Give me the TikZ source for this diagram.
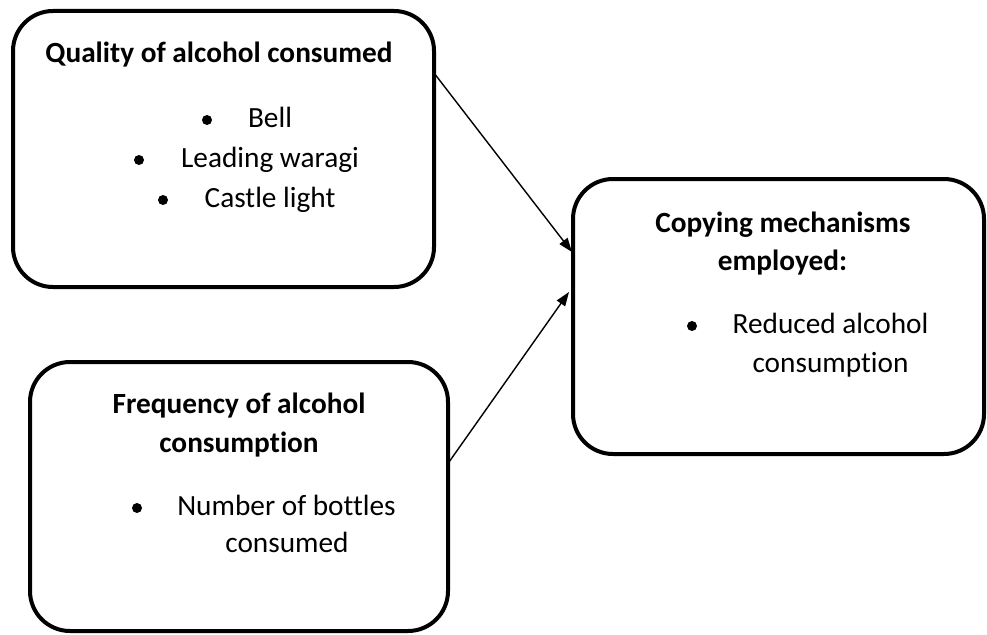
\documentclass[tikz,border=0pt]{standalone}
\usepackage{fontspec}
\setmainfont[Ligatures=NoCommon]{Carlito}
\usetikzlibrary{arrows.meta,calc}
\begin{document}
\begin{tikzpicture}[x=1pt,y=-1pt,
  box/.style={draw, line width=4pt, rounded corners=40pt, inner sep=0pt, outer sep=0pt},
  txt/.style={font=\fontsize{29.3}{35}\selectfont, inner sep=0pt, anchor=base},
  btxt/.style={txt, font=\fontsize{29.3}{35}\selectfont\bfseries},
  dot/.style={circle, fill, inner sep=0pt, minimum size=10pt},
  conn/.style={line width=1.4pt, -{Triangle[length=14pt,width=10pt]}}]
\useasboundingbox (0,0) rectangle (987,634);
% boxes
\node[box, minimum width=421pt, minimum height=276pt] (q) at (223.5,149) {};
\node[box, minimum width=411pt, minimum height=275pt] (c) at (778.5,316.5) {};
\node[box, minimum width=418pt, minimum height=269pt] (f) at (239,496.5) {};
% box 1 text
\node[btxt] (q1) at (219,63) {Quality of alcohol consumed};
\node[dot] (qb1) at (207,120) {};
\node[txt] (q2) at (270,127) {Bell};
\node[dot] (qb2) at (139,160) {};
\node[txt] (q3) at (270,167) {Leading waragi};
\node[dot] (qb3) at (163,200) {};
\node[txt] (q4) at (270,207) {Castle light};
% box 2 text
\node[btxt] (c1) at (783,232) {Copying mechanisms};
\node[btxt] (c2) at (782.5,270) {employed:};
\node[dot] (cb1) at (692,326) {};
\node[txt] (c3) at (830.5,333) {Reduced alcohol};
\node[txt] (c4) at (830.5,372) {consumption};
% box 3 text
\node[btxt] (f1) at (239,413) {Frequency of alcohol};
\node[btxt] (f2) at (239,452) {consumption};
\node[dot] (fb1) at (137,508) {};
\node[txt] (f3) at (286.5,515) {Number of bottles};
\node[txt] (f4) at (287,552) {consumed};
% connectors
\draw[conn] ($(q.north east)+(0,62)$) -- ($(c.north west)+(-1,73)$);
\draw[conn] ($(f.north east)+(1,100)$) -- ($(c.north west)+(-4,113)$);
\end{tikzpicture}
\end{document}
